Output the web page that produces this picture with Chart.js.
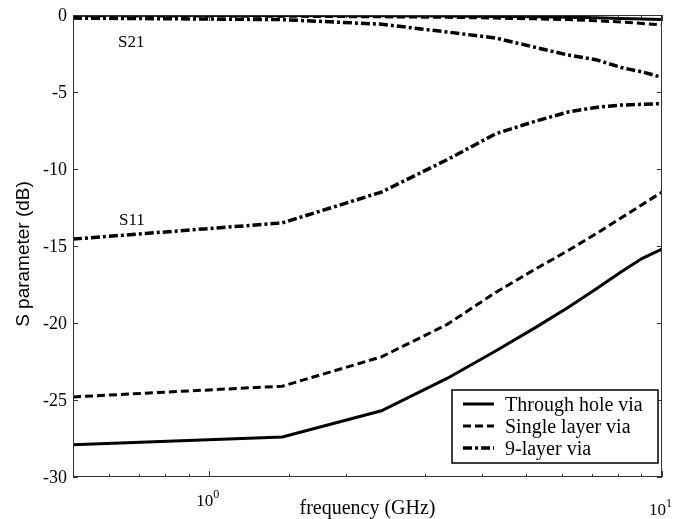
<!DOCTYPE html>
<html>
<head>
<meta charset="utf-8">
<script src="https://cdn.jsdelivr.net/npm/chart.js@4"></script>
<style>
  body { margin: 0; background: #fff; }
  canvas { display: block; }
</style>
</head>
<body>
<canvas id="myChart" width="673" height="519"></canvas>
<script>
// frequences (GHz) et courbes
const freqGHz = [0.5, 1.45, 2.4, 3.35, 4.3, 5.25, 6.2, 7.15, 8.1, 9.05, 10];

const s11Through = [-27.9, -27.4, -25.7, -23.6, -21.8, -20.3, -19.0, -17.8, -16.7, -15.8, -15.2];
const s11Single = [-24.8, -24.1, -22.2, -20.1, -18.0, -16.5, -15.3, -14.2, -13.2, -12.3, -11.5];
const s11Nine = [-14.55, -13.5, -11.5, -9.4, -7.7, -6.9, -6.3, -6.0, -5.85, -5.8, -5.75];

const s21Through = [-0.02, -0.03, -0.05, -0.07, -0.09, -0.12, -0.15, -0.18, -0.22, -0.26, -0.3];
const s21Single = [-0.05, -0.08, -0.12, -0.15, -0.2, -0.25, -0.3, -0.38, -0.45, -0.55, -0.65];
const s21Nine = [-0.2, -0.3, -0.6, -1.1, -1.5, -2.1, -2.6, -2.9, -3.4, -3.7, -4.05];

const legendLabels = ["Through hole via", "Single layer via", "9-layer via"];
const yTicks = [0, -5, -10, -15, -20, -25, -30];

// styles des traits
const solid = [];
const dashed = [8, 4];
const dashDot = [9, 3, 3, 3];

function pts(ys) {
  return ys.map((y, i) => ({ x: freqGHz[i], y: y }));
}

function serie(label, ys, dash, width) {
  return {
    label: label,
    data: pts(ys),
    borderColor: "#000",
    borderWidth: width,
    borderDash: dash,
    pointRadius: 0,
    tension: 0,
    fill: false,
  };
}

const data = {
  datasets: [
    serie(legendLabels[0], s11Through, solid, 3),
    serie(legendLabels[1], s11Single, dashed, 3),
    serie(legendLabels[2], s11Nine, dashDot, 3.5),
    serie(legendLabels[0], s21Through, solid, 3),
    serie(legendLabels[1], s21Single, dashed, 3),
    serie(legendLabels[2], s21Nine, dashDot, 3.5),
  ],
};

const serif = "'Liberation Serif', 'Times New Roman', serif";

// cadre, graduations, titres, legende
const decor = {
  id: "decor",
  afterDraw(chart) {
    const ctx = chart.ctx;
    const a = chart.chartArea;
    const sx = chart.scales.x;
    const sy = chart.scales.y;
    ctx.save();

    // cadre
    ctx.strokeStyle = "#333";
    ctx.lineWidth = 1;
    ctx.setLineDash([]);
    ctx.strokeRect(a.left + 0.5, a.top + 0.5, a.right - a.left - 1, a.bottom - a.top - 1);

    // graduations x (vers l'interieur)
    ctx.beginPath();
    sx.ticks.forEach((t) => {
      const px = Math.round(sx.getPixelForValue(t.value)) + 0.5;
      const major = Math.abs(Math.log10(t.value) - Math.round(Math.log10(t.value))) < 1e-9;
      const len = major ? 6 : 3;
      ctx.moveTo(px, a.bottom);
      ctx.lineTo(px, a.bottom - len);
      ctx.moveTo(px, a.top);
      ctx.lineTo(px, a.top + len);
    });
    // graduations y
    yTicks.forEach((v) => {
      const py = Math.round(sy.getPixelForValue(v)) + 0.5;
      ctx.moveTo(a.left, py);
      ctx.lineTo(a.left + 5, py);
      ctx.moveTo(a.right, py);
      ctx.lineTo(a.right - 5, py);
    });
    ctx.stroke();

    // etiquettes y
    ctx.fillStyle = "#000";
    ctx.font = "18px " + serif;
    ctx.textAlign = "right";
    ctx.textBaseline = "middle";
    yTicks.forEach((v) => {
      ctx.fillText(String(v), 67, sy.getPixelForValue(v) + 1);
    });

    // etiquettes 10^0 et 10^1
    ctx.textBaseline = "alphabetic";
    const decades = [
      { v: 1, exp: "0", base: 506 },
      { v: 10, exp: "1", base: 515 },
    ];
    decades.forEach((d) => {
      const px = sx.getPixelForValue(d.v);
      ctx.font = "17px " + serif;
      ctx.textAlign = "right";
      ctx.fillText("10", px + 4, d.base);
      ctx.font = "12px " + serif;
      ctx.textAlign = "left";
      ctx.fillText(d.exp, px + 4, d.base - 8);
    });

    // titre x
    ctx.font = "20px " + serif;
    ctx.textAlign = "center";
    ctx.fillText("frequency (GHz)", (a.left + a.right) / 2, 514);

    // titre y
    ctx.save();
    ctx.translate(29, 254);
    ctx.rotate(-Math.PI / 2);
    ctx.font = "19px 'Liberation Sans', Arial, sans-serif";
    ctx.textAlign = "center";
    ctx.fillText("S parameter (dB)", 0, 0);
    ctx.restore();

    // annotations
    ctx.font = "17px " + serif;
    ctx.textAlign = "left";
    ctx.fillText("S21", 118, 47);
    ctx.fillText("S11", 119, 225);

    // legende
    const bx = 452, by = 390, bw = 206, bh = 73;
    ctx.fillStyle = "#fff";
    ctx.fillRect(bx, by, bw, bh);
    ctx.strokeStyle = "#000";
    ctx.lineWidth = 1.5;
    ctx.strokeRect(bx, by, bw, bh);
    const styles = [chart.data.datasets[0], chart.data.datasets[1], chart.data.datasets[2]];
    styles.forEach((ds, i) => {
      const cy = 404 + i * 22;
      ctx.beginPath();
      ctx.setLineDash(ds.borderDash);
      ctx.lineWidth = ds.borderWidth;
      ctx.moveTo(463, cy);
      ctx.lineTo(494, cy);
      ctx.stroke();
      ctx.setLineDash([]);
      ctx.fillStyle = "#000";
      ctx.font = "20px " + serif;
      ctx.textAlign = "left";
      ctx.fillText(legendLabels[i], 505, cy + 7);
    });

    ctx.restore();
  },
};

const config = {
  type: "line",
  data: data,
  options: {
    responsive: false,
    animation: false,
    devicePixelRatio: 1,
    layout: { padding: { top: 15, right: 11, left: 0, bottom: 0 } },
    plugins: {
      legend: { display: false },
      tooltip: { enabled: false },
    },
    scales: {
      x: {
        type: "logarithmic",
        min: 0.5,
        max: 10,
        grid: { display: false },
        border: { display: false },
        ticks: { display: false },
        afterFit: (s) => { s.height = 42; },
      },
      y: {
        min: -30,
        max: 0,
        grid: { display: false },
        border: { display: false },
        ticks: { display: false, stepSize: 5 },
        afterFit: (s) => { s.width = 73; },
      },
    },
  },
  plugins: [decor],
};

let context = document.getElementById("myChart").getContext("2d");
let chart = new Chart(context, config);
</script>
</body>
</html>
